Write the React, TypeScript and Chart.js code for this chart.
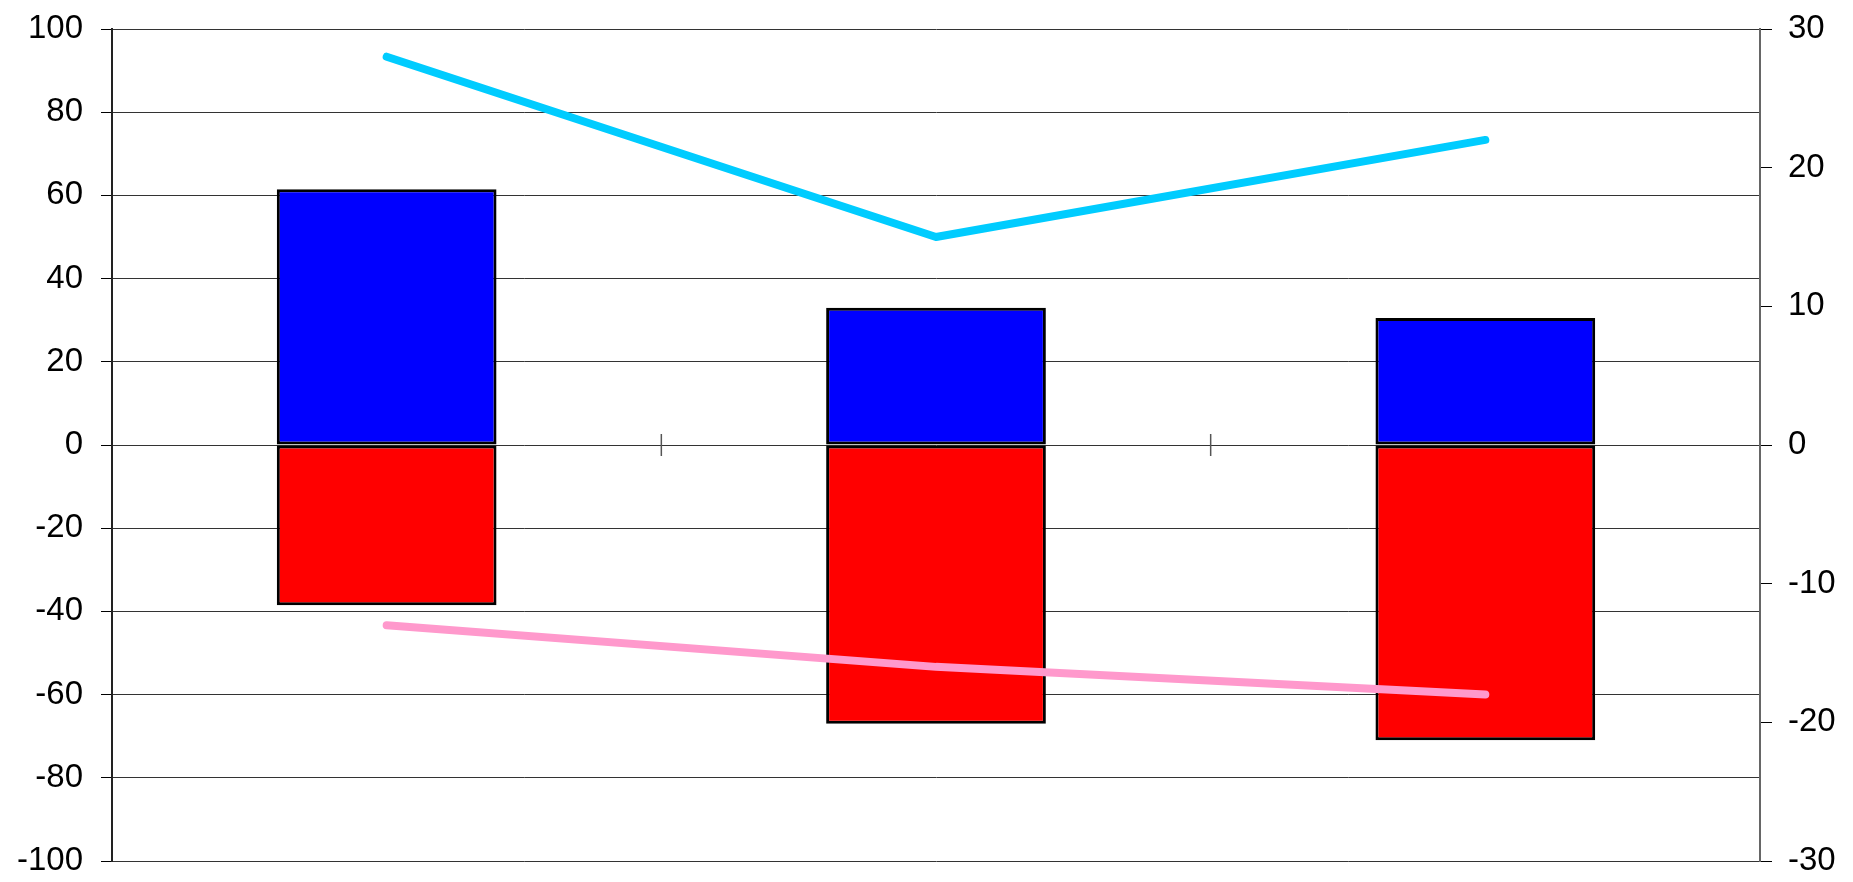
import React, { useEffect, useRef } from "react";
import { Chart, registerables } from "chart.js";

Chart.register(...registerables);

const categories = ["", "", ""];
const positiveValues = [61.5, 33, 30.5];
const negativeValues = [-38.5, -67, -71];
const cyanLine = [28, 15, 22];
const pinkLine = [-13, -16, -18];
const leftTicks = [-100, -80, -60, -40, -20, 0, 20, 40, 60, 80, 100];
const rightTicks = [-30, -20, -10, 0, 10, 20, 30];

const FONT = "'Liberation Sans', Arial, sans-serif";

const categoryTicks = {
  id: "categoryTicks",
  afterDatasetsDraw(chart: any) {
    const x = chart.scales.x;
    const y = chart.scales.y;
    const y0 = y.getPixelForValue(0);
    const ctx = chart.ctx;
    ctx.save();
    ctx.strokeStyle = "#555";
    ctx.lineWidth = 1.5;
    for (let i = 0; i < categories.length - 1; i++) {
      const px = (x.getPixelForValue(i) + x.getPixelForValue(i + 1)) / 2;
      ctx.beginPath();
      ctx.moveTo(px, y0 - 11);
      ctx.lineTo(px, y0 + 11);
      ctx.stroke();
    }
    ctx.restore();
  },
};

export default function App() {
  const ref = useRef<HTMLCanvasElement | null>(null);
  useEffect(() => {
    if (!ref.current) return;
    const chart = new Chart(ref.current, {
      type: "bar",
      data: {
        labels: categories,
        datasets: [
          {
            type: "line",
            data: cyanLine,
            yAxisID: "y2",
            borderColor: "#00CCFF",
            borderWidth: 8,
            borderCapStyle: "round",
            borderJoinStyle: "round",
            pointRadius: 0,
            tension: 0,
            order: 0,
          } as any,
          {
            type: "line",
            data: pinkLine,
            yAxisID: "y2",
            borderColor: "#FF99CC",
            borderWidth: 8,
            borderCapStyle: "round",
            borderJoinStyle: "round",
            pointRadius: 0,
            tension: 0,
            order: 0,
          } as any,
          {
            type: "bar",
            data: positiveValues,
            yAxisID: "y",
            backgroundColor: "#0000FF",
            borderColor: "#000",
            borderWidth: 3,
            borderSkipped: false,
            barPercentage: 0.4,
            categoryPercentage: 1,
            stack: "s",
            order: 1,
          },
          {
            type: "bar",
            data: negativeValues,
            yAxisID: "y",
            backgroundColor: "#FF0000",
            borderColor: "#000",
            borderWidth: 3,
            borderSkipped: false,
            barPercentage: 0.4,
            categoryPercentage: 1,
            stack: "s",
            order: 1,
          },
        ],
      },
      options: {
        animation: false,
        responsive: true,
        maintainAspectRatio: false,
        layout: { padding: { top: 29, bottom: 21, left: 0, right: 0 } },
        plugins: {
          legend: { display: false },
          tooltip: { enabled: false },
        },
        scales: {
          x: {
            stacked: true,
            display: false,
            offset: true,
            grid: { display: false },
          },
          y: {
            stacked: true,
            position: "left",
            min: -100,
            max: 100,
            afterBuildTicks: (s: any) => {
              s.ticks = leftTicks.map((v) => ({ value: v }));
            },
            afterFit: (s: any) => {
              s.width = 112;
              s.paddingTop = 0;
              s.paddingBottom = 0;
            },
            ticks: {
              color: "#000",
              font: { family: FONT, size: 33 },
              padding: 18,
            },
            grid: {
              color: "#333",
              lineWidth: 1,
              tickLength: 11,
              tickColor: "#000",
            },
            border: { display: true, color: "#222", width: 2 },
          },
          y2: {
            position: "right",
            min: -30,
            max: 30,
            afterBuildTicks: (s: any) => {
              s.ticks = rightTicks.map((v) => ({ value: v }));
            },
            afterFit: (s: any) => {
              s.width = 93;
              s.paddingTop = 0;
              s.paddingBottom = 0;
            },
            ticks: {
              color: "#000",
              font: { family: FONT, size: 33 },
              padding: 16,
            },
            grid: {
              drawOnChartArea: false,
              tickLength: 12,
              tickColor: "#000",
            },
            border: { display: true, color: "#666", width: 2 },
          },
        },
      },
      plugins: [categoryTicks],
    });
    return () => chart.destroy();
  }, []);
  return (
    <div style={{ position: "fixed", left: 0, top: 0, width: 1853, height: 882, background: "#fff" }}>
      <canvas ref={ref} />
    </div>
  );
}
